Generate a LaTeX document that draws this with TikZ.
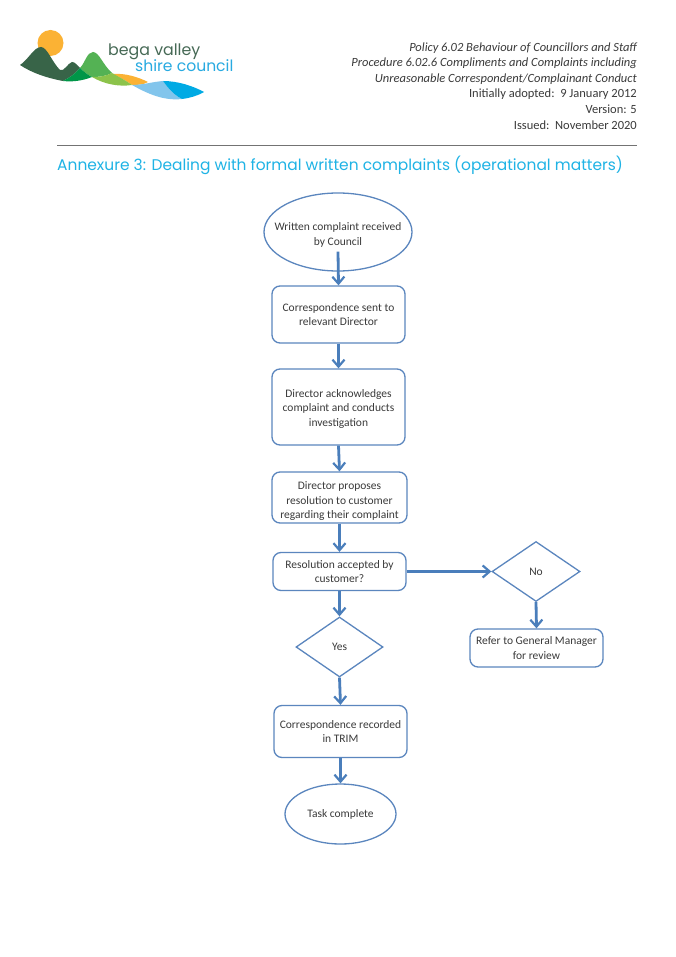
\documentclass[tikz,border=0pt]{standalone}
\usepackage{fontspec}
\setmainfont{Carlito}
\newfontfamily\titlefont{Poppins}
\usetikzlibrary{shapes.geometric,arrows.meta}
\definecolor{flowblue}{HTML}{5B86BE}
\definecolor{arrowblue}{HTML}{4A7EBB}
\definecolor{tx}{HTML}{3A3A3A}
\definecolor{cyanT}{HTML}{1FB3E5}
\definecolor{sunO}{RGB}{251,178,52}
\definecolor{darkG}{RGB}{56,100,72}
\definecolor{midG}{RGB}{0,150,72}
\definecolor{lightG}{RGB}{84,178,84}
\definecolor{yelG}{RGB}{140,195,75}
\definecolor{ltB}{RGB}{130,197,236}
\definecolor{dkB}{RGB}{0,170,228}
\newcommand{\lift}[1]{\rule{0pt}{#1pt}}
\tikzset{
 x=1pt,y=-1pt,
 base/.style={draw=flowblue,line width=1.3pt,fill=white,text=tx,align=center,inner sep=0pt,font=\fontsize{11.5}{14.5}\selectfont},
 rbox/.style={base,rectangle,rounded corners=8pt},
 oval/.style={base,ellipse,inner xsep=-14pt},
 dia/.style={base,diamond,aspect=1.45},
 conn/.style={draw=arrowblue,line width=2.8pt,-{Straight Barb[length=7pt,width=12pt,line width=2.2pt]}},
 hdr/.style={anchor=east,inner sep=0pt,text=tx,font=\fontsize{12.5}{14}\selectfont},
}
\begin{document}
\begin{tikzpicture}
\useasboundingbox (0,0) rectangle (675,957);
\fill[white] (0,0) rectangle (675,957);
% logo
\fill[sunO] (50.5,43) circle (13);
\fill[sunO] (113,74) .. controls (125,73) and (138,77) .. (148,82) .. controls (143,85) and (137,85) .. (132,85) .. controls (125,80) and (119,77) .. (113,74) -- cycle;
\fill[darkG] (20,65) .. controls (28,60) and (34,47) .. (41,47) .. controls (47,47) and (52,62) .. (60,70) .. controls (64,72) and (68,63) .. (72,62) .. controls (75,62) and (77,65) .. (80,68) .. controls (75,74) and (69,78) .. (63,81) .. controls (47,78) and (32,73) .. (20,65) -- cycle;
\fill[lightG] (80,68) .. controls (85,63) and (87,52) .. (93,52) .. controls (99,52) and (103,65) .. (112,73) .. controls (106,76) and (100,77) .. (92,77) .. controls (88,75) and (84,72) .. (80,68) -- cycle;
\fill[midG] (63,81) .. controls (69,78) and (75,74) .. (80,68) .. controls (84,72) and (88,75) .. (92,77) .. controls (82,81) and (72,82) .. (63,81) -- cycle;
\fill[yelG] (92,77) .. controls (100,77) and (106,76) .. (112,73) .. controls (119,77) and (125,80) .. (132,85) .. controls (118,87) and (104,84) .. (92,77) -- cycle;
\fill[ltB] (132,85) .. controls (142,85) and (152,82) .. (163,81) .. controls (168,88) and (174,95) .. (182,99) .. controls (164,101) and (148,94) .. (132,85) -- cycle;
\fill[dkB] (163,81) .. controls (178,81) and (193,86) .. (204,92) .. controls (197,96) and (190,98) .. (182,99) .. controls (174,95) and (168,88) .. (163,81) -- cycle;
\node[inner sep=0pt,anchor=west,text={rgb,255:red,70;green,105;blue,85},font=\titlefont\fontsize{15.8}{16}\selectfont] (lg1) at (108,52) {bega valley};
\node[inner sep=0pt,anchor=west,text={rgb,255:red,40;green,170;blue,225},font=\titlefont\fontsize{15.6}{16}\selectfont] (lg2) at (135,66) {shire council};
% header
\node[hdr] (h1) at (637,48) {\itshape Policy 6.02 Behaviour of Councillors and Staff};
\node[hdr] (h2) at (637,63) {\itshape Procedure 6.02.6 Compliments and Complaints including};
\node[hdr] (h3) at (637,79) {\itshape Unreasonable Correspondent/Complainant Conduct};
\node[hdr] (h4) at (637,94) {Initially adopted:\ \ 9 January 2012};
\node[hdr] (h5) at (637,109) {Version: 5};
\node[hdr] (h6) at (637,125) {Issued:\ \ November 2020};
\draw[line width=.8pt,color=black!55] (57,145) -- (637,145);
\node[inner sep=0pt,anchor=west,text=cyanT,font=\titlefont\fontsize{15.45}{20}\selectfont] (title) at (57,165) {Annexure 3: Dealing with formal written complaints (operational matters)};
% nodes
\node[oval,minimum width=148pt,minimum height=78pt] (a) at (338,232) {\lift{14}Written complaint received\\by Council};
\node[rbox,minimum width=133pt,minimum height=57pt] (b) at (338.5,314.5) {Correspondence sent to\\relevant Director};
\node[rbox,minimum width=133pt,minimum height=76pt] (c) at (338.5,407) {\lift{11}Director acknowledges\\complaint and conducts\\investigation};
\node[rbox,minimum width=135pt,minimum height=51pt] (d) at (339.5,497.5) {\lift{15}Director proposes\\resolution to customer\\regarding their complaint};
\node[rbox,minimum width=133pt,minimum height=38pt] (e) at (339.5,571.5) {Resolution accepted by\\customer?};
\node[dia,minimum width=87pt,minimum height=60pt] (yes) at (339.5,647) {Yes};
\node[dia,minimum width=88pt,minimum height=60pt] (no) at (536,571.5) {No};
\node[rbox,minimum width=133pt,minimum height=38pt] (r) at (536.5,648) {Refer to General Manager\\for review};
\node[rbox,minimum width=133pt,minimum height=52pt] (t) at (340.5,731.5) {Correspondence recorded\\in TRIM};
\node[oval,minimum width=111pt,minimum height=60pt] (f) at (340.5,814) {Task complete};
% connectors
\draw[conn] ([yshift=20pt]a.south) -- (b.north);
\draw[conn] (b.south) -- (c.north);
\draw[conn] (c.south) -- (d.north);
\draw[conn] (d.south) -- (e.north);
\draw[conn] (e.south) -- (yes.north);
\draw[conn] (e.east) -- (no.west);
\draw[conn] (no.south) -- (r.north);
\draw[conn] (yes.south) -- (t.north);
\draw[conn] (t.south) -- (f.north);
\end{tikzpicture}
\end{document}
